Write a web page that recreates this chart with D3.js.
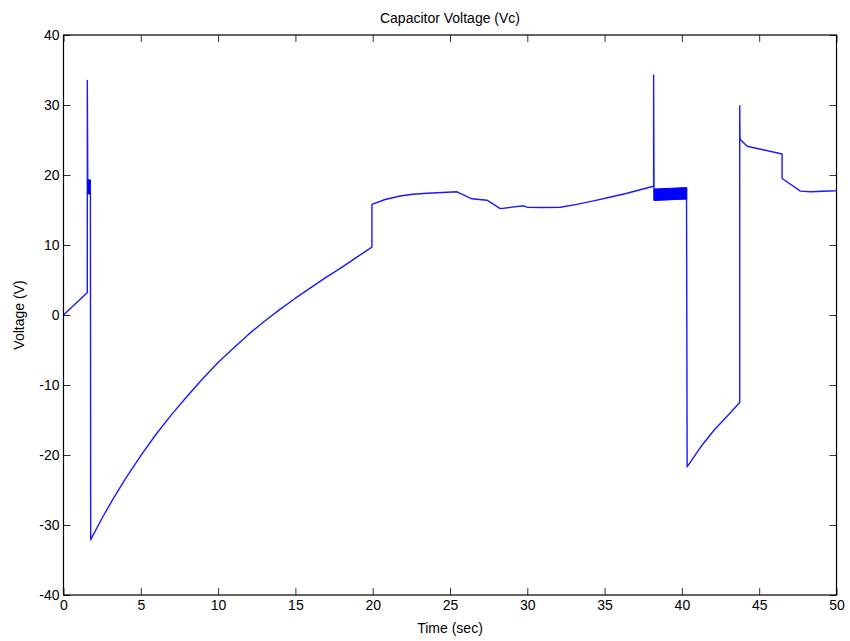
<!DOCTYPE html>
<html>
<head>
<meta charset="utf-8">
<script src="https://cdn.jsdelivr.net/npm/d3@7"></script>
<style>
  html, body { margin: 0; padding: 0; background: #fff; }
  svg text { font-family: "Liberation Sans", Arial, Helvetica, sans-serif; fill: #000; }
</style>
</head>
<body>
<svg id="chart" width="850" height="641"></svg>
<script>
// ---- data ----
const chartTitle = "Capacitor Voltage (Vc)";
const xLabel = "Time (sec)";
const yLabel = "Voltage (V)";
const xTicks = [0, 5, 10, 15, 20, 25, 30, 35, 40, 45, 50];
const yTicks = [-40, -30, -20, -10, 0, 10, 20, 30, 40];

const timeSec = [
  0, 1.54, 1.54, 1.57, 1.74, 1.76,
  2.5, 3.2, 4.0, 5.0, 6.0, 7.0, 8.0, 9.0, 10.0, 11.0, 12.0, 13.0, 14.0, 15.0, 16.0, 17.0, 18.0, 19.0, 19.95,
  19.95, 20.8, 21.78, 22.6, 23.51, 24.5, 25.45, 26.42, 27.39, 28.25, 29.76, 29.98, 31.0, 32.14, 33.2, 34.29, 35.4, 36.45, 37.3, 38.17,
  38.17, 38.20, 40.30, 40.34,
  41.20, 42.06, 43.0, 43.74,
  43.74, 43.76, 44.22, 46.48, 46.48, 47.67, 48.32, 49.94, 50
];
const voltage = [
  0, 3.2, 33.5, 19.3, 17.3, -32.1,
  -29.0, -26.3, -23.4, -20.1, -17.0, -14.2, -11.6, -9.1, -6.8, -4.7, -2.7, -0.9, 0.8, 2.4, 3.9, 5.4, 6.8, 8.3, 9.7,
  15.8, 16.5, 17.0, 17.25, 17.4, 17.5, 17.6, 16.6, 16.4, 15.2, 15.6, 15.4, 15.35, 15.4, 15.8, 16.3, 16.85, 17.4, 17.9, 18.4,
  34.3, 16.4, 16.6, -21.7,
  -18.9, -16.5, -14.3, -12.5,
  29.9, 25.1, 24.1, 23.0, 19.5, 17.7, 17.6, 17.76, 17.8
];

// fast-switching ripple bands (envelope of the dense oscillation)
const ripple1Time = [1.56, 1.74];
const ripple1Low  = [17.3, 17.3];
const ripple1High = [19.3, 19.3];
const ripple2Time = [38.20, 40.32];
const ripple2Low  = [16.4, 16.6];
const ripple2High = [18.0, 18.2];

// ---- layout ----
const svg = d3.select("#chart");
const mLeft = 63.5, mRight = 836.5, mTop = 35, mBottom = 595;
const fontSize = 14;

const x = d3.scaleLinear().domain([0, 50]).range([mLeft, mRight]);
const y = d3.scaleLinear().domain([-40, 40]).range([mBottom, mTop]);

svg.append("rect").attr("width", 850).attr("height", 641).attr("fill", "#fff");

// data line
const points = timeSec.map((t, i) => [t, voltage[i]]);
const line = d3.line().x(d => x(d[0])).y(d => y(d[1]));
svg.append("path")
  .datum(points)
  .attr("d", line)
  .attr("fill", "none")
  .attr("stroke", "#1a1aff")
  .attr("stroke-width", 1.4)
  .attr("stroke-linejoin", "round");

// ripple bands
const area = d3.area().x(d => x(d.t)).y0(d => y(d.lo)).y1(d => y(d.hi));
[[ripple1Time, ripple1Low, ripple1High], [ripple2Time, ripple2Low, ripple2High]].forEach(([T, L, H]) => {
  const d = T.map((t, i) => ({t, lo: L[i], hi: H[i]}));
  svg.append("path").datum(d).attr("d", area)
    .attr("fill", "#0000ff").attr("stroke", "#0000ff").attr("stroke-width", 1);
});

// axes (MATLAB-like: ticks inward on all four sides)
const tickLen = 7;
const axB = svg.append("g").attr("transform", `translate(0,${mBottom})`)
  .call(d3.axisBottom(x).tickValues(xTicks).tickSizeInner(-tickLen).tickSizeOuter(0).tickPadding(5).tickFormat(d3.format("d")));
const axT = svg.append("g").attr("transform", `translate(0,${mTop})`)
  .call(d3.axisTop(x).tickValues(xTicks).tickSizeInner(-tickLen).tickSizeOuter(0).tickFormat(""));
const axL = svg.append("g").attr("transform", `translate(${mLeft},0)`)
  .call(d3.axisLeft(y).tickValues(yTicks).tickSizeInner(-tickLen).tickSizeOuter(0).tickPadding(4).tickFormat(d => d3.format("d")(d).replace("−", "-")));
const axR = svg.append("g").attr("transform", `translate(${mRight},0)`)
  .call(d3.axisRight(y).tickValues(yTicks).tickSizeInner(-tickLen).tickSizeOuter(0).tickFormat(""));

[axB, axT, axL, axR].forEach(g => {
  g.select(".domain").remove();
  g.selectAll(".tick line").attr("stroke", "#333").attr("stroke-width", 1);
  g.selectAll("text").attr("font-size", fontSize).attr("font-family", "'Liberation Sans', Arial, sans-serif").attr("fill", "#000");
});

// frame
svg.append("rect")
  .attr("x", mLeft).attr("y", mTop)
  .attr("width", mRight - mLeft).attr("height", mBottom - mTop)
  .attr("fill", "none").attr("stroke", "#000").attr("stroke-width", 1.2);

// titles
svg.append("text").attr("x", (mLeft + mRight) / 2).attr("y", 23)
  .attr("text-anchor", "middle").attr("font-size", fontSize).text(chartTitle);
svg.append("text").attr("x", (mLeft + mRight) / 2).attr("y", 633)
  .attr("text-anchor", "middle").attr("font-size", fontSize).text(xLabel);
svg.append("text").attr("transform", `translate(24,${(mTop + mBottom) / 2}) rotate(-90)`)
  .attr("text-anchor", "middle").attr("font-size", fontSize).text(yLabel);
</script>
</body>
</html>
